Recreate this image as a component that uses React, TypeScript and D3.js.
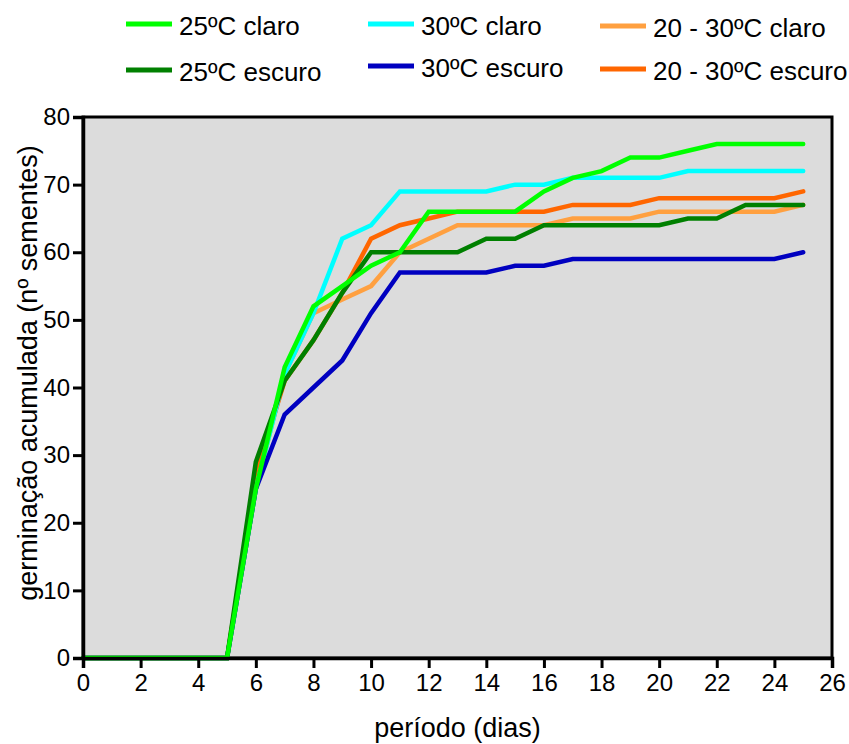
import React, { useEffect, useRef } from 'react';
import * as d3 from 'd3';

const width = 849;
const height = 744;
const margin = { top: 117, right: 17, bottom: 86, left: 83 };

// dias
const days = [0, 1, 2, 3, 4, 5, 6, 7, 8, 9, 10, 11, 12, 13, 14, 15, 16, 17, 18, 19, 20, 21, 22, 23, 24, 25];

const claro25 = [0, 0, 0, 0, 0, 0, 25, 43, 52, 55, 58, 60, 66, 66, 66, 66, 69, 71, 72, 74, 74, 75, 76, 76, 76, 76];
const escuro25 = [0, 0, 0, 0, 0, 0, 29, 41, 47, 54, 60, 60, 60, 60, 62, 62, 64, 64, 64, 64, 64, 65, 65, 67, 67, 67];
const claro30 = [0, 0, 0, 0, 0, 0, 25, 42, 51, 62, 64, 69, 69, 69, 69, 70, 70, 71, 71, 71, 71, 72, 72, 72, 72, 72];
const escuro30 = [0, 0, 0, 0, 0, 0, 25, 36, 40, 44, 51, 57, 57, 57, 57, 58, 58, 59, 59, 59, 59, 59, 59, 59, 59, 60];
const claro2030 = [0, 0, 0, 0, 0, 0, 25, 42, 51, 53, 55, 60, 62, 64, 64, 64, 64, 65, 65, 65, 66, 66, 66, 66, 66, 67];
const escuro2030 = [0, 0, 0, 0, 0, 0, 27, 41, 47, 54, 62, 64, 65, 66, 66, 66, 66, 67, 67, 67, 68, 68, 68, 68, 68, 69];

const xTicks = [0, 2, 4, 6, 8, 10, 12, 14, 16, 18, 20, 22, 24, 26];
const yTicks = [0, 10, 20, 30, 40, 50, 60, 70, 80];

interface Serie {
  label: string;
  values: number[];
  color: string;
}

const series: Serie[] = [
  { label: '25ºC claro', values: claro25, color: '#00ff00' },
  { label: '25ºC escuro', values: escuro25, color: '#008000' },
  { label: '30ºC claro', values: claro30, color: '#00ffff' },
  { label: '30ºC escuro', values: escuro30, color: '#0000c0' },
  { label: '20 - 30ºC claro', values: claro2030, color: '#ffa040' },
  { label: '20 - 30ºC escuro', values: escuro2030, color: '#ff6600' },
];

// legend placement (col, row, line y)
const legendPos = [
  { x: 126, ly: 24, ty: 35 },
  { x: 126, ly: 70, ty: 81 },
  { x: 368, ly: 24, ty: 35 },
  { x: 368, ly: 66, ty: 77 },
  { x: 600, ly: 26, ty: 37 },
  { x: 600, ly: 69, ty: 80 },
];

// drawing order, bottom to top
const drawOrder = [4, 5, 2, 3, 1, 0];

const font = 'Liberation Sans, Arial, sans-serif';

export default function App() {
  const ref = useRef<SVGSVGElement>(null);

  useEffect(() => {
    const svg = d3.select(ref.current);
    svg.selectAll('*').remove();

    const x = d3.scaleLinear().domain([0, 26]).range([margin.left, width - margin.right]);
    const y = d3.scaleLinear().domain([0, 80]).range([height - margin.bottom, margin.top]);

    svg.append('rect')
      .attr('x', x(0))
      .attr('y', y(80))
      .attr('width', x(26) - x(0))
      .attr('height', y(0) - y(80))
      .attr('fill', '#dcdcdc')
      .attr('stroke', '#000')
      .attr('stroke-width', 3);

    const line = d3.line<number>()
      .x((d, i) => x(days[i]))
      .y((d) => y(d));

    drawOrder.forEach((k) => {
      svg.append('path')
        .datum(series[k].values)
        .attr('d', line)
        .attr('fill', 'none')
        .attr('stroke', series[k].color)
        .attr('stroke-width', 4.5)
        .attr('stroke-linecap', 'round')
        .attr('stroke-linejoin', 'miter');
    });

    // axes
    const xAxis = svg.append('g')
      .attr('transform', 'translate(0,' + y(0) + ')')
      .call(d3.axisBottom(x).tickValues(xTicks).tickSize(10).tickPadding(6));
    const yAxis = svg.append('g')
      .attr('transform', 'translate(' + x(0) + ',0)')
      .call(d3.axisLeft(y).tickValues(yTicks).tickSize(10).tickPadding(3));

    [xAxis, yAxis].forEach((g) => {
      g.select('.domain').attr('stroke-width', 3.5).attr('stroke', '#000');
      g.selectAll('.tick line').attr('stroke-width', 3).attr('stroke', '#000');
      g.selectAll('.tick text')
        .attr('font-family', font)
        .attr('font-size', 24)
        .attr('fill', '#000');
    });

    svg.append('text')
      .attr('x', (x(0) + x(26)) / 2)
      .attr('y', 737)
      .attr('text-anchor', 'middle')
      .attr('font-family', font)
      .attr('font-size', 27)
      .text('período (dias)');

    svg.append('text')
      .attr('transform', 'translate(37,' + 373 + ') rotate(-90)')
      .attr('text-anchor', 'middle')
      .attr('font-family', font)
      .attr('font-size', 27)
      .text('germinação acumulada (nº sementes)');

    // legend
    const leg = svg.append('g');
    series.forEach((s, i) => {
      const p = legendPos[i];
      leg.append('line')
        .attr('x1', p.x).attr('x2', p.x + 46)
        .attr('y1', p.ly).attr('y2', p.ly)
        .attr('stroke', s.color)
        .attr('stroke-width', 5);
      leg.append('text')
        .attr('x', p.x + 53)
        .attr('y', p.ty)
        .attr('font-family', font)
        .attr('font-size', 26)
        .text(s.label);
    });
  }, []);

  return (
    <svg
      ref={ref}
      width={width}
      height={height}
      style={{ position: 'absolute', left: 0, top: 0, background: '#fff' }}
    />
  );
}
